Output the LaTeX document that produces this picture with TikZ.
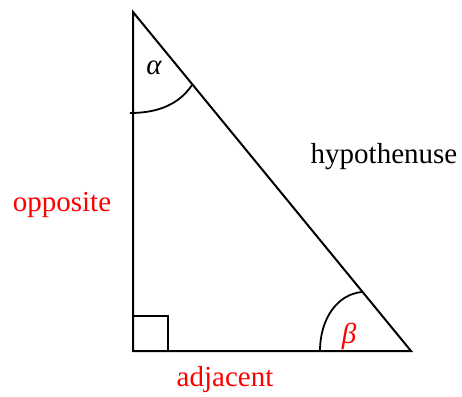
\documentclass[tikz,border=0pt]{standalone}
\usepackage{fontspec}
\setmainfont{Liberation Serif}
\usepackage{tikz}
\usetikzlibrary{positioning,calc}
\definecolor{trired}{HTML}{FF0000}

\begin{document}
\begin{tikzpicture}[
    x=1pt, y=-1pt,
    % Estilos
    side/.style={line width=2pt, line join=miter},
    arcline/.style={line width=1.8pt},
    lbl/.style={font=\fontsize{29}{34}\selectfont, inner sep=0pt},
    rlbl/.style={lbl, text=trired},
    glbl/.style={lbl, font=\fontsize{29}{34}\selectfont\itshape}
]
\useasboundingbox (0,0) rectangle (462,396);

% --- VÉRTICES ---
\coordinate (top)   at (133,12);
\coordinate (right) at (133,351);
\coordinate (far)   at (411,351);

% --- LADOS ---
\draw[side] (top) -- (right) -- (far) -- cycle;
\draw[side] (133,316) -| (168,351);

% --- ÁNGULOS ---
\draw[arcline] (130,113) .. controls (160,113) and (180,103) .. (192,85);
\draw[arcline] (320,351) .. controls (320,318) and (338,294) .. (362,292);

% --- ETIQUETADO ---
\node[glbl]              (alpha) at (154,68)  {α};
\node[glbl, text=trired] (beta)  at (349,336) {β};
\node[lbl]  (hyp)   at (384,157) {hypothenuse};
\node[rlbl] (opp)   at (62,205)  {opposite};
\node[rlbl] (adj)   at (225,380) {adjacent};

\end{tikzpicture}
\end{document}
